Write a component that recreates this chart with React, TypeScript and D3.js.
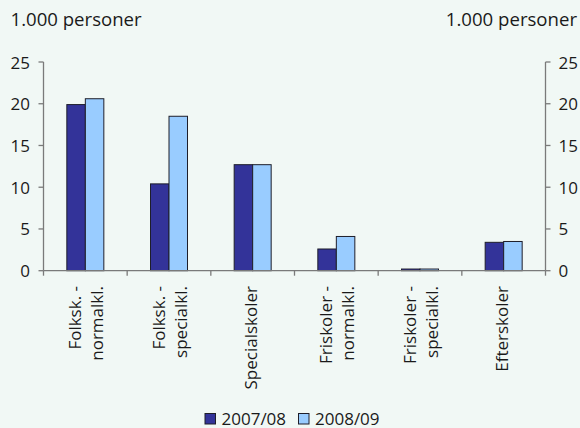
import React from "react";
import * as d3 from "d3";

// School categories (label lines) and pupil counts in thousands
const categories: string[][] = [
  ["Folksk. -", "normalkl."],
  ["Folksk. -", "specialkl."],
  ["Specialskoler"],
  ["Friskoler -", "normalkl."],
  ["Friskoler -", "specialkl."],
  ["Efterskoler"],
];
const series0708: number[] = [19.9, 10.4, 12.7, 2.6, 0.2, 3.4];
const series0809: number[] = [20.6, 18.5, 12.7, 4.1, 0.2, 3.5];
const seriesNames: string[] = ["2007/08", "2008/09"];
const seriesColors: string[] = ["#333399", "#99CCFF"];
const yTicks: number[] = [0, 5, 10, 15, 20, 25];
const unitLabel = "1.000 personer";

const W = 580;
const H = 428;
const FONT = "'Open Sans', 'Noto Sans', sans-serif";
const FS = 17;
const TITLE_FS = 18.6;

export default function App() {
  const left = 43.5;
  const right = 545.5;
  const top = 62;
  const bottom = 270.7;

  const x = d3
    .scaleBand<number>()
    .domain(categories.map((_, i) => i))
    .range([left, right])
    .paddingInner(0)
    .paddingOuter(0);
  const y = d3.scaleLinear().domain([0, 25]).range([bottom, top]);

  const bw = x.bandwidth();
  const barW = 18.5;
  const values = [series0708, series0809];
  const axisColor = "#7a7a7a";
  const boundaries = d3.range(categories.length + 1).map((i) => left + i * bw);

  return (
    <svg
      width={W}
      height={H}
      style={{ position: "fixed", left: 0, top: 0, display: "block" }}
      fontFamily={FONT}
    >
      <rect x={0} y={0} width={W} height={H} fill="#F1F8F5" />

      <text x={10.5} y={26} fontSize={TITLE_FS} fill="#1a1a1a">
        {unitLabel}
      </text>
      <text x={577} y={26} fontSize={TITLE_FS} fill="#1a1a1a" textAnchor="end">
        {unitLabel}
      </text>

      {/* bars */}
      {categories.map((_, i) => {
        const cx = (x(i) as number) + bw / 2;
        return values.map((vals, s) => {
          const v = vals[i];
          const bx = cx - barW + s * barW;
          return (
            <rect
              key={`${i}-${s}`}
              x={bx}
              y={y(v)}
              width={barW}
              height={y(0) - y(v)}
              fill={seriesColors[s]}
              stroke="#1e1e2a"
              strokeWidth={1}
            />
          );
        });
      })}

      {/* left axis */}
      <line x1={left} x2={left} y1={top} y2={bottom} stroke={axisColor} strokeWidth={1.3} />
      {yTicks.map((t) => (
        <g key={`l${t}`}>
          <line x1={left - 5} x2={left} y1={y(t)} y2={y(t)} stroke={axisColor} strokeWidth={1.3} />
          <text x={30} y={y(t) + 6.5} fontSize={FS} textAnchor="end" fill="#1a1a1a">
            {t}
          </text>
        </g>
      ))}

      {/* right axis */}
      <line x1={right} x2={right} y1={top} y2={bottom} stroke={axisColor} strokeWidth={1.3} />
      {yTicks.map((t) => (
        <g key={`r${t}`}>
          <line x1={right} x2={right + 5} y1={y(t)} y2={y(t)} stroke={axisColor} strokeWidth={1.3} />
          <text x={558.5} y={y(t) + 6.5} fontSize={FS} textAnchor="start" fill="#1a1a1a">
            {t}
          </text>
        </g>
      ))}

      {/* category axis */}
      <line x1={left} x2={right} y1={bottom} y2={bottom} stroke={axisColor} strokeWidth={1.3} />
      {boundaries.map((bx, i) => (
        <line key={`b${i}`} x1={bx} x2={bx} y1={bottom} y2={bottom + 5} stroke={axisColor} strokeWidth={1.3} />
      ))}

      {categories.map((lines, i) => {
        const cx = (x(i) as number) + bw / 2;
        const n = lines.length;
        const shift = n === 1 ? 4.5 : 7;
        return lines.map((ln, j) => {
          const bx = cx + shift + (j - (n - 1) / 2) * 22;
          return (
            <text
              key={`c${i}-${j}`}
              transform={`translate(${bx},286) rotate(-90)`}
              fontSize={FS}
              textAnchor="end"
              fill="#1a1a1a"
            >
              {ln}
            </text>
          );
        });
      })}

      {/* legend */}
      {seriesNames.map((name, s) => {
        const lx = s === 0 ? 205 : 298.5;
        return (
          <g key={name}>
            <rect x={lx} y={413.5} width={10.5} height={10.5} fill={seriesColors[s]} stroke="#1e1e2a" strokeWidth={1} />
            <text x={lx + 16.5} y={424.5} fontSize={FS} fill="#1a1a1a">
              {name}
            </text>
          </g>
        );
      })}
    </svg>
  );
}
